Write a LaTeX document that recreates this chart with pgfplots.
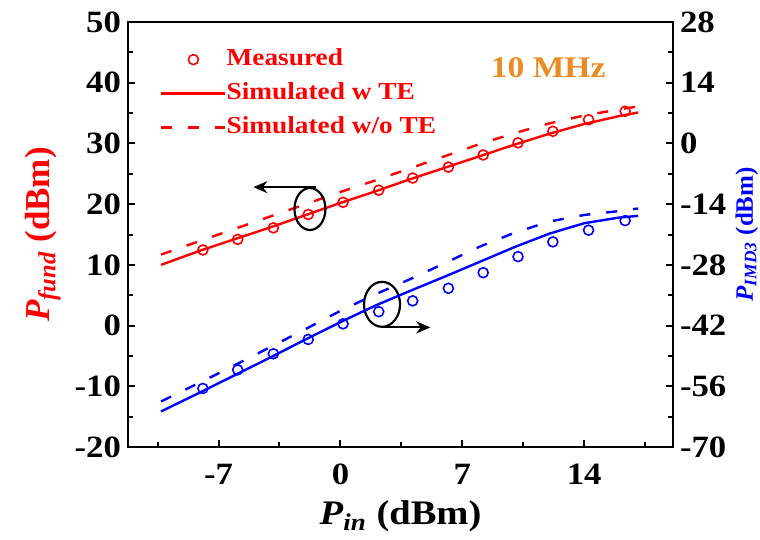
\documentclass[border=0pt]{standalone}
\usepackage{fontspec}
\setmainfont{Liberation Serif}[FakeStretch=1.12]
\newfontfamily\rotfont{Liberation Serif}
\usepackage{pgfplots}
\pgfplotsset{compat=1.18}
\usetikzlibrary{arrows.meta}
\definecolor{myorange}{RGB}{235,140,35}
\definecolor{myred}{RGB}{255,0,0}
\definecolor{myblue}{RGB}{0,0,255}

\begin{document}
\begin{tikzpicture}
\path[use as bounding box] (-64pt,-46.5pt) rectangle (316pt,223.5pt);
\begin{axis}[
  at={(0,0)}, anchor=south west,
  scale only axis, width=272.5pt, height=212.5pt,
  xmin=-12.2, xmax=19.1, ymin=-20, ymax=50,
  axis line style={line width=1.3pt},
  tick align=inside, xtick pos=left, ytick pos=left,
  xtick={-7,0,7,14}, xticklabels={-7,0,7,14},
  minor xtick={-10.5,-3.5,3.5,10.5,17.5},
  ytick={-20,-10,0,10,20,30,40,50}, yticklabels={-20,-10,0,10,20,30,40,50},
  minor ytick={-15,-5,5,15,25,35,45},
  major tick length=3.5pt, minor tick length=2.5pt,
  every tick/.style={black, line width=1pt},
  tick label style={font=\fontsize{15.5}{15.5}\selectfont\bfseries},
  xticklabel style={yshift=-5pt},
  xlabel={\textit{P}\textsubscript{\textit{in}} (dBm)},
  xlabel style={at={([yshift=-39pt]axis description cs:0.5,0)}, anchor=base, font=\fontsize{17.2}{17.2}\selectfont\bfseries},
  ylabel={\rotfont\fontsize{17.5}{17.5}\selectfont\bfseries\textit{P}\textsubscript{\textit{fund}} (dBm)},
  ylabel style={at={([xshift=-39pt]axis description cs:0,0.5)}, anchor=base, text=myred},
  legend style={at={(axis cs:-10.35,45.7)}, anchor=north west, draw=none, fill=none,
    inner sep=0pt, outer sep=0pt, font=\fontsize{12.2}{12.2}\selectfont\bfseries, text=myred,
    row sep=5.5pt, nodes={inner sep=0pt, text height=8.5pt, text depth=3pt},
    /tikz/every even column/.append style={column sep=5pt}},
  legend cell align=left,
  legend image code/.code={\draw[mark repeat=2,mark phase=2,#1] plot coordinates {(0pt,0pt) (16pt,0pt) (32pt,0pt)};},
]
\addplot[only marks, mark=o, mark size=2.5pt, myred, mark options={line width=0.8pt}] coordinates {
(-7.9,12.45) (-5.9,14.2) (-3.85,16.1) (-1.85,18.3) (0.15,20.3) (2.2,22.3) (4.15,24.3) (6.2,26.1) (8.2,28.1) (10.2,30.1) (12.2,32.0) (14.25,33.9) (16.35,35.3)};
\addlegendentry{Measured}
\addplot[myred, line width=1.2pt, no marks] coordinates {
(-10.3,10.0) (-8,12.4) (-6,14.3) (-4,16.2) (-2,18.2) (0,20.2) (2,22.1) (4,24.1) (6,26.0) (8,27.9) (10,29.8) (12,31.6) (14,33.2) (16,34.5) (17.1,35.1)};
\addlegendentry{Simulated w TE}
\addplot[myred, line width=1.2pt, no marks, dash pattern=on 5.5pt off 8pt] coordinates {
(-10.3,11.7) (-8,14.0) (-6,16.0) (-4,18.0) (-2,20.0) (0,22.0) (2,23.9) (4,25.9) (6,27.9) (8,29.9) (10,31.7) (12,33.3) (14,34.6) (16,35.6) (17.1,36.1)};
\addlegendentry{Simulated w/o TE}
\node[text=myorange, font=\fontsize{15}{15}\selectfont\bfseries] at (axis cs:11.93,42.4) {10 MHz};
\draw[line width=1.1pt] (axis cs:-1.75,19.2) ellipse [x radius=7.75pt, y radius=10.5pt];
\draw[line width=1.1pt, -{Stealth[length=7pt, width=6pt]}] (axis cs:-1.43,22.8) -- (axis cs:-5.0,22.8);
\draw[line width=1.1pt] (axis cs:2.39,3.5) ellipse [x radius=9pt, y radius=11.25pt];
\draw[line width=1.1pt, -{Stealth[length=7pt, width=6pt]}] (axis cs:2.47,-0.3) -- (axis cs:5.16,-0.3);
\end{axis}
\begin{axis}[
  at={(0,0)}, anchor=south west,
  scale only axis, width=272.5pt, height=212.5pt,
  xmin=-12.2, xmax=19.1, ymin=-70, ymax=28,
  axis x line=none, axis y line*=right,
  axis line style={line width=1.3pt},
  tick align=inside,
  ytick={-70,-56,-42,-28,-14,0,14,28}, yticklabels={-70,-56,-42,-28,-14,0,14,28},
  minor ytick={-63,-49,-35,-21,-7,7,21},
  major tick length=3.5pt, minor tick length=2.5pt,
  every tick/.style={black, line width=1pt},
  tick label style={font=\fontsize{15.5}{15.5}\selectfont\bfseries},
  ylabel={\rotfont\fontsize{12.5}{12.5}\selectfont\bfseries\textit{P}\textsubscript{\textit{IMD3}} (dBm)},
  ylabel style={at={([xshift=31pt]axis description cs:1,0.5)}, anchor=north, text=myblue, inner sep=0pt},
]
\addplot[only marks, mark=o, mark size=2.5pt, myblue, mark options={line width=0.8pt}] coordinates {
(-7.9,-56.5) (-5.9,-52.2) (-3.85,-48.5) (-1.85,-45.2) (0.15,-41.6) (2.2,-38.8) (4.15,-36.3) (6.2,-33.4) (8.2,-29.8) (10.2,-26.1) (12.2,-22.7) (14.25,-20.0) (16.35,-17.8)};
\addplot[myblue, line width=1.2pt, no marks] coordinates {
(-10.3,-61.8) (-8,-57.3) (-6,-53.3) (-4,-49.3) (-2,-45.2) (0,-41.2) (2,-37.4) (4,-34.0) (6,-30.7) (8,-27.3) (10,-23.9) (12,-20.8) (14,-18.4) (16,-17.1) (17.1,-16.7)};
\addplot[myblue, line width=1.2pt, no marks, dash pattern=on 5.5pt off 8pt] coordinates {
(-10.3,-59.5) (-8,-55.0) (-6,-51.0) (-4,-46.9) (-2,-42.8) (0,-38.6) (2,-34.8) (4,-31.3) (6,-27.6) (8,-23.8) (10,-20.6) (12,-18.0) (14,-16.5) (16,-15.6) (17.1,-15.0)};
\end{axis}
\end{tikzpicture}
\end{document}
